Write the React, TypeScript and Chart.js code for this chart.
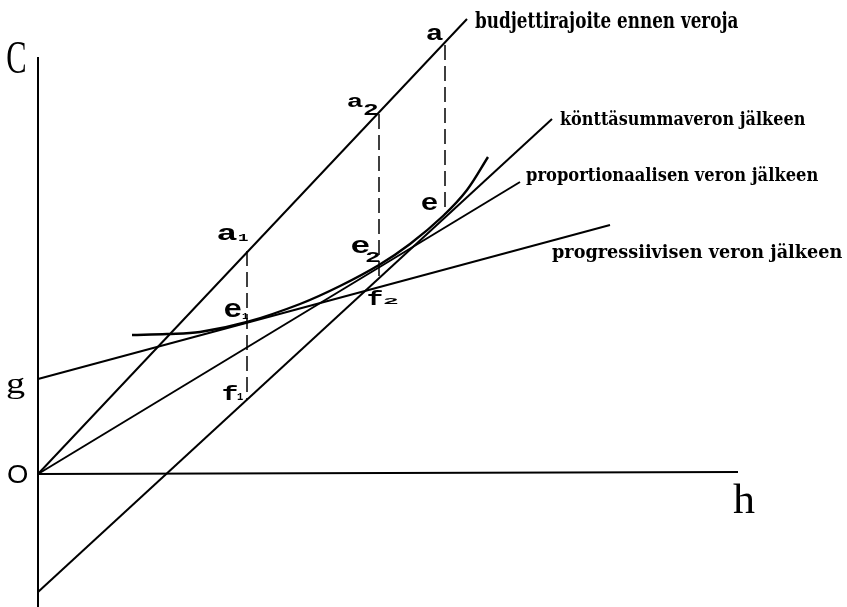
import React, { useEffect, useRef } from "react";
import { Chart, registerables } from "chart.js";

Chart.register(...registerables);

// Axes (data units, origin at O)
const hAxisX = [0, 700];
const hAxisY = [0, 2];
const cAxisX = [0, 0];
const cAxisY = [-133, 417];

// Budget constraint before taxes
const budgetX = [0, 429];
const budgetY = [0, 455];
// After lump-sum tax
const lumpX = [0, 514];
const lumpY = [-118, 355];
// After proportional tax
const propX = [0, 482];
const propY = [0, 292];
// After progressive tax
const progX = [0, 572];
const progY = [95, 249];
// Indifference curve
const curveX = [94, 129, 162, 209, 262, 302, 341, 372, 405, 429, 450];
const curveY = [139, 140, 142, 152, 170, 188, 209, 230, 258, 284, 317];
// Dashed verticals: a1-f1, a2-f2, a-e
const dropA1X = [209, 209];
const dropA1Y = [223, 74];
const dropA2X = [341, 341];
const dropA2Y = [360, 196];
const dropAX = [407, 407];
const dropAY = [429, 260];

const seriesLabels = [
  "budjettirajoite ennen veroja",
  "könttäsummaveron jälkeen",
  "proportionaalisen veron jälkeen",
  "progressiivisen veron jälkeen",
];

type Lab = { t: string; x1: number; x2: number; top: number; base: number; font: string };

const serif = "'Liberation Serif', serif";
const boldSerif = "bold 24px 'DejaVu Serif', serif";
const mono = "bold 22px 'Liberation Mono', monospace";
const monoSub = "bold 14px 'Liberation Mono', monospace";

const labels: Lab[] = [
  { t: "C", x1: -31, x2: -13, top: 431, base: 401, font: `44px ${serif}` },
  { t: "O", x1: -30, x2: -11, top: 9, base: -9, font: "26px 'Liberation Sans', sans-serif" },
  { t: "g", x1: -31, x2: -13, top: 97, base: 81, font: `34px ${serif}` },
  { t: "h", x1: 695, x2: 717, top: -9, base: -39, font: `44px ${serif}` },
  { t: "a", x1: 389, x2: 405, top: 446, base: 434, font: mono },
  { t: "a", x1: 180, x2: 199, top: 246, base: 234, font: mono },
  { t: "1", x1: 200, x2: 210, top: 241, base: 233, font: monoSub },
  { t: "a", x1: 310, x2: 325, top: 377, base: 367, font: mono },
  { t: "2", x1: 325, x2: 340, top: 371, base: 359, font: monoSub },
  { t: "e", x1: 384, x2: 400, top: 277, base: 264, font: mono },
  { t: "e", x1: 187, x2: 204, top: 171, base: 157, font: mono },
  { t: "1", x1: 204, x2: 210, top: 162, base: 155, font: monoSub },
  { t: "e", x1: 314, x2: 332, top: 234, base: 221, font: mono },
  { t: "2", x1: 327, x2: 342, top: 222, base: 212, font: monoSub },
  { t: "f", x1: 185, x2: 200, top: 89, base: 74, font: mono },
  { t: "1", x1: 199, x2: 205, top: 82, base: 74, font: monoSub },
  { t: "f", x1: 330, x2: 345, top: 184, base: 169, font: mono },
  { t: "2", x1: 345, x2: 360, top: 177, base: 170, font: monoSub },
  { t: seriesLabels[0], x1: 437, x2: 700, top: 464, base: 446, font: boldSerif },
  { t: seriesLabels[1], x1: 522, x2: 767, top: 365, base: 349, font: boldSerif },
  { t: seriesLabels[2], x1: 488, x2: 780, top: 309, base: 293, font: boldSerif },
  { t: seriesLabels[3], x1: 514, x2: 804, top: 232, base: 216, font: boldSerif },
];

const pts = (xs: number[], ys: number[]) => xs.map((x, i) => ({ x, y: ys[i] }));

const textPlugin = {
  id: "textLabels",
  afterDatasetsDraw(chart: any) {
    const ctx = chart.ctx as CanvasRenderingContext2D;
    const xs = chart.scales.x;
    const ys = chart.scales.y;
    ctx.save();
    ctx.fillStyle = "#000";
    ctx.textBaseline = "alphabetic";
    ctx.textAlign = "left";
    for (const l of labels) {
      ctx.font = l.font;
      const m = ctx.measureText(l.t);
      const inkW = m.actualBoundingBoxRight + m.actualBoundingBoxLeft;
      const inkH = m.actualBoundingBoxAscent;
      const px1 = xs.getPixelForValue(l.x1);
      const px2 = xs.getPixelForValue(l.x2);
      const pTop = ys.getPixelForValue(l.top);
      const pBase = ys.getPixelForValue(l.base);
      const sx = (px2 - px1) / inkW;
      const sy = (pBase - pTop) / inkH;
      ctx.save();
      ctx.translate(px1 + m.actualBoundingBoxLeft * sx, pBase);
      ctx.scale(sx, sy);
      ctx.fillText(l.t, 0, 0);
      ctx.restore();
    }
    ctx.restore();
  },
};

const bgPlugin = {
  id: "bg",
  beforeDraw(chart: any) {
    const ctx = chart.ctx;
    ctx.save();
    ctx.fillStyle = "#fff";
    ctx.fillRect(0, 0, chart.width, chart.height);
    ctx.restore();
  },
};

export default function App() {
  const ref = useRef<HTMLCanvasElement | null>(null);
  useEffect(() => {
    document.body.style.margin = "0";
    const solid = (data: any[], w = 2, extra: any = {}) => ({
      data,
      showLine: true,
      borderColor: "#000",
      borderWidth: w,
      pointRadius: 0,
      fill: false,
      ...extra,
    });
    const dash = { borderDash: [15, 6] };
    const chart = new Chart(ref.current!, {
      type: "scatter",
      data: {
        datasets: [
          solid(pts(hAxisX, hAxisY), 2),
          solid(pts(cAxisX, cAxisY), 2),
          solid(pts(budgetX, budgetY)),
          solid(pts(lumpX, lumpY)),
          solid(pts(propX, propY)),
          solid(pts(progX, progY)),
          solid(pts(curveX, curveY), 2.4, { tension: 0.35 }),
          solid(pts(dropA1X, dropA1Y), 1.5, dash),
          solid(pts(dropA2X, dropA2Y), 1.5, dash),
          solid(pts(dropAX, dropAY), 1.5, dash),
        ],
      },
      options: {
        responsive: false,
        animation: false,
        events: [],
        layout: { padding: 0 },
        plugins: { legend: { display: false }, tooltip: { enabled: false } },
        scales: {
          x: { type: "linear", min: -38, max: 809, display: false },
          y: { type: "linear", min: -133, max: 474, display: false },
        },
      },
      plugins: [bgPlugin, textPlugin],
    });
    return () => chart.destroy();
  }, []);
  return (
    <div style={{ position: "absolute", left: 0, top: 0, width: 847, height: 607 }}>
      <canvas ref={ref} width={847} height={607} style={{ display: "block" }} />
    </div>
  );
}
